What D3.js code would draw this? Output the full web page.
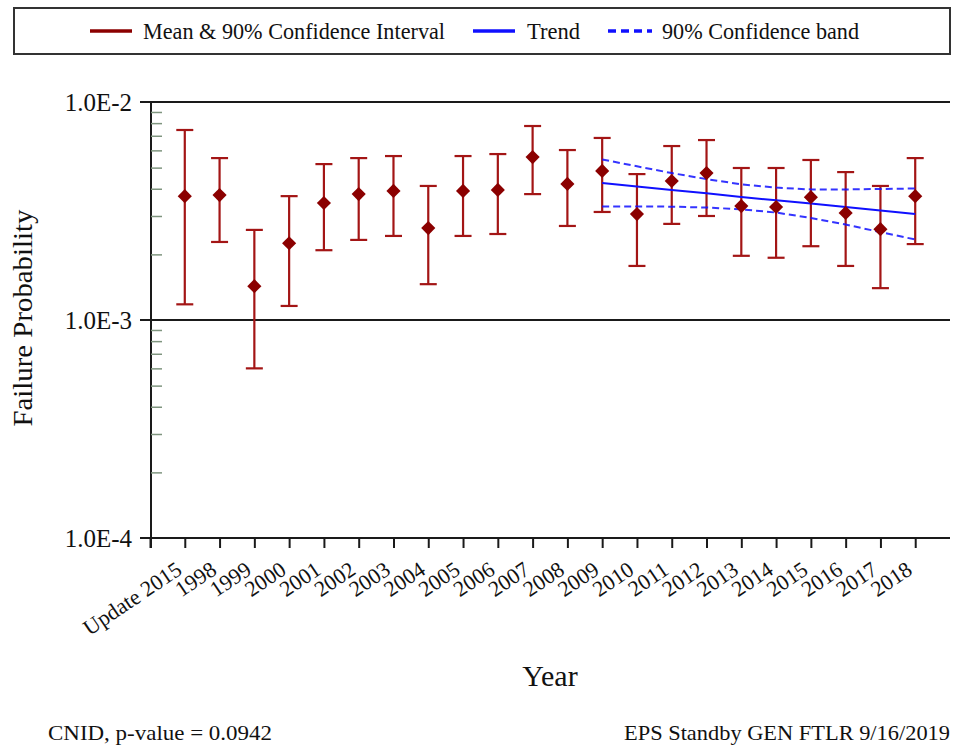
<!DOCTYPE html>
<html>
<head>
<meta charset="utf-8">
<script src="https://cdn.jsdelivr.net/npm/d3@7"></script>
<style>
  html, body { margin: 0; padding: 0; background: #fff; }
  svg { display: block; }
  text { font-family: "Liberation Serif", "Times New Roman", serif; fill: #111; }
</style>
</head>
<body>
<script>
// ---------------- data ----------------
const categories = ["Update 2015","1998","1999","2000","2001","2002","2003","2004","2005","2006",
  "2007","2008","2009","2010","2011","2012","2013","2014","2015","2016","2017","2018"];
const meanValues  = [3.70e-3,3.74e-3,1.43e-3,2.25e-3,3.44e-3,3.78e-3,3.91e-3,2.64e-3,3.91e-3,3.95e-3,
  5.59e-3,4.21e-3,4.83e-3,3.06e-3,4.34e-3,4.72e-3,3.33e-3,3.30e-3,3.66e-3,3.10e-3,2.61e-3,3.70e-3];
const upperValues = [7.44e-3,5.53e-3,2.59e-3,3.70e-3,5.19e-3,5.53e-3,5.65e-3,4.12e-3,5.65e-3,5.77e-3,
  7.76e-3,6.02e-3,6.84e-3,4.67e-3,6.28e-3,6.69e-3,4.98e-3,4.98e-3,5.42e-3,4.77e-3,4.12e-3,5.53e-3];
const lowerValues = [1.18e-3,2.28e-3,6.0e-4,1.16e-3,2.09e-3,2.33e-3,2.43e-3,1.46e-3,2.43e-3,2.48e-3,
  3.78e-3,2.70e-3,3.13e-3,1.77e-3,2.76e-3,3.00e-3,1.97e-3,1.93e-3,2.18e-3,1.77e-3,1.40e-3,2.23e-3];
const trendYears  = ["2009","2010","2011","2012","2013","2014","2015","2016","2017","2018"];
const trendValues = [4.25e-3,4.10e-3,3.95e-3,3.81e-3,3.67e-3,3.54e-3,3.42e-3,3.30e-3,3.18e-3,3.06e-3];
const bandUpper   = [5.45e-3,5.07e-3,4.72e-3,4.43e-3,4.19e-3,4.05e-3,3.97e-3,3.97e-3,3.99e-3,4.01e-3];
const bandLower   = [3.32e-3,3.32e-3,3.31e-3,3.28e-3,3.22e-3,3.11e-3,2.94e-3,2.74e-3,2.53e-3,2.34e-3];
const majorTicks  = [1e-4, 1e-3, 1e-2];
const majorLabels = ["1.0E-4", "1.0E-3", "1.0E-2"];
const legendLabels = ["Mean & 90% Confidence Interval", "Trend", "90% Confidence band"];
const xTitle = "Year";
const yTitle = "Failure Probability";
const footLeft = "CNID, p-value = 0.0942";
const footRight = "EPS Standby GEN FTLR 9/16/2019";

// ---------------- layout ----------------
const W = 959, H = 747;
const plotL = 151, plotR = 950, plotT = 102, plotB = 538;
const RED = "#8b0000", BAR = "#a31515", BLUE = "#1010ff";

const svg = d3.select("body").append("svg").attr("width", W).attr("height", H);

const x = d3.scaleLinear().domain([-1, categories.length]).range([150, 950]);
const y = d3.scaleLog().domain([1e-4, 1e-2]).range([plotB, plotT]);
const idx = c => categories.indexOf(c);

// ---------------- legend ----------------
const lg = svg.append("g");
lg.append("rect").attr("x", 14).attr("y", 8).attr("width", 936).attr("height", 46)
  .attr("fill", "#fff").attr("stroke", "#333").attr("stroke-width", 2);
const legendItems = [
  {x1: 90, x2: 132, color: RED, dash: null, tx: 143, len: 302},
  {x1: 473, x2: 515, color: BLUE, dash: null, tx: 527, len: 53},
  {x1: 608, x2: 652, color: BLUE, dash: "8,5", tx: 662, len: 197}
];
legendItems.forEach((d, i) => {
  lg.append("line").attr("x1", d.x1).attr("x2", d.x2).attr("y1", 31).attr("y2", 31)
    .attr("stroke", d.color).attr("stroke-width", 3.5).attr("stroke-dasharray", d.dash);
  lg.append("text").attr("x", d.tx).attr("y", 39).attr("font-size", 23)
    .attr("textLength", d.len).attr("lengthAdjust", "spacingAndGlyphs")
    .text(legendLabels[i]);
});

// ---------------- frame lines ----------------
majorTicks.forEach(v => {
  svg.append("line").attr("x1", 140).attr("x2", plotR).attr("y1", y(v)).attr("y2", y(v))
    .attr("stroke", "#1a1a1a").attr("stroke-width", 2);
});
svg.append("line").attr("x1", plotL).attr("x2", plotL).attr("y1", plotT).attr("y2", plotB + 10)
  .attr("stroke", "#1a1a1a").attr("stroke-width", 2);

// y axis (major labels)
const yAxis = d3.axisLeft(y).tickValues(majorTicks).tickSize(0).tickPadding(0)
  .tickFormat((d, i) => majorLabels[i]);
const yg = svg.append("g").attr("transform", `translate(${plotL},0)`).call(yAxis);
yg.select(".domain").remove();
yg.selectAll("text").attr("x", -19).attr("dy", "0.34em").attr("font-size", 25)
  .attr("font-family", "Liberation Serif").attr("fill", "#111");

// minor ticks
const minorTicks = [];
[1e-4, 1e-3].forEach(b => { for (let k = 2; k <= 9; k++) minorTicks.push(b * k); });
const minorAxis = d3.axisRight(y).tickValues(minorTicks).tickSize(11).tickFormat("");
const mg = svg.append("g").attr("transform", `translate(${plotL},0)`).call(minorAxis);
mg.select(".domain").remove();
mg.selectAll("line").attr("stroke", "#7f957f").attr("stroke-width", 1.5);

// x axis
const xAxis = d3.axisBottom(x).tickValues(d3.range(-1, categories.length)).tickSize(10)
  .tickFormat(i => i >= 0 ? categories[i] : "");
const xg = svg.append("g").attr("transform", `translate(0,${plotB})`).call(xAxis);
xg.select(".domain").remove();
xg.selectAll("line").attr("stroke", "#1a1a1a").attr("stroke-width", 2);
xg.selectAll("text")
  .attr("x", null).attr("y", null).attr("dy", null)
  .attr("text-anchor", "end")
  .attr("transform", "translate(-2,35) rotate(-34)")
  .attr("font-size", 22).attr("font-family", "Liberation Serif").attr("fill", "#111");

// ---------------- error bars ----------------
const bars = svg.append("g");
categories.forEach((c, i) => {
  const cx = x(i);
  bars.append("line").attr("x1", cx).attr("x2", cx).attr("y1", y(upperValues[i])).attr("y2", y(lowerValues[i]))
    .attr("stroke", BAR).attr("stroke-width", 2.2);
  [upperValues[i], lowerValues[i]].forEach(v => {
    bars.append("line").attr("x1", cx - 8.5).attr("x2", cx + 8.5).attr("y1", y(v)).attr("y2", y(v))
      .attr("stroke", BAR).attr("stroke-width", 2.2);
  });
});

// ---------------- trend + band ----------------
const line = d3.line().x(d => x(idx(d[0]))).y(d => y(d[1]));
svg.append("path").datum(trendYears.map((t, i) => [t, trendValues[i]])).attr("d", line)
  .attr("fill", "none").attr("stroke", BLUE).attr("stroke-width", 2);
[bandUpper, bandLower].forEach(arr => {
  svg.append("path").datum(trendYears.map((t, i) => [t, arr[i]])).attr("d", line)
    .attr("fill", "none").attr("stroke", BLUE).attr("stroke-width", 2).attr("stroke-dasharray", "7,4")
    .attr("opacity", 0.85);
});

// ---------------- diamonds ----------------
const sym = d3.symbol().type(d3.symbolSquare).size(100);
svg.append("g").selectAll("path").data(meanValues).join("path")
  .attr("d", sym)
  .attr("transform", (d, i) => `translate(${x(i)},${y(d)}) rotate(45)`)
  .attr("fill", RED);

// ---------------- titles ----------------
svg.append("text").attr("transform", "translate(32,318) rotate(-90)").attr("text-anchor", "middle")
  .attr("font-size", 28).attr("textLength", 217).attr("lengthAdjust", "spacingAndGlyphs").text(yTitle);
svg.append("text").attr("x", 550).attr("y", 686).attr("text-anchor", "middle")
  .attr("font-size", 30).text(xTitle);
svg.append("text").attr("x", 48).attr("y", 740).attr("font-size", 22)
  .attr("textLength", 224).attr("lengthAdjust", "spacingAndGlyphs").text(footLeft);
svg.append("text").attr("x", 624).attr("y", 740).attr("font-size", 22)
  .attr("textLength", 326).attr("lengthAdjust", "spacingAndGlyphs").text(footRight);
</script>
</body>
</html>
